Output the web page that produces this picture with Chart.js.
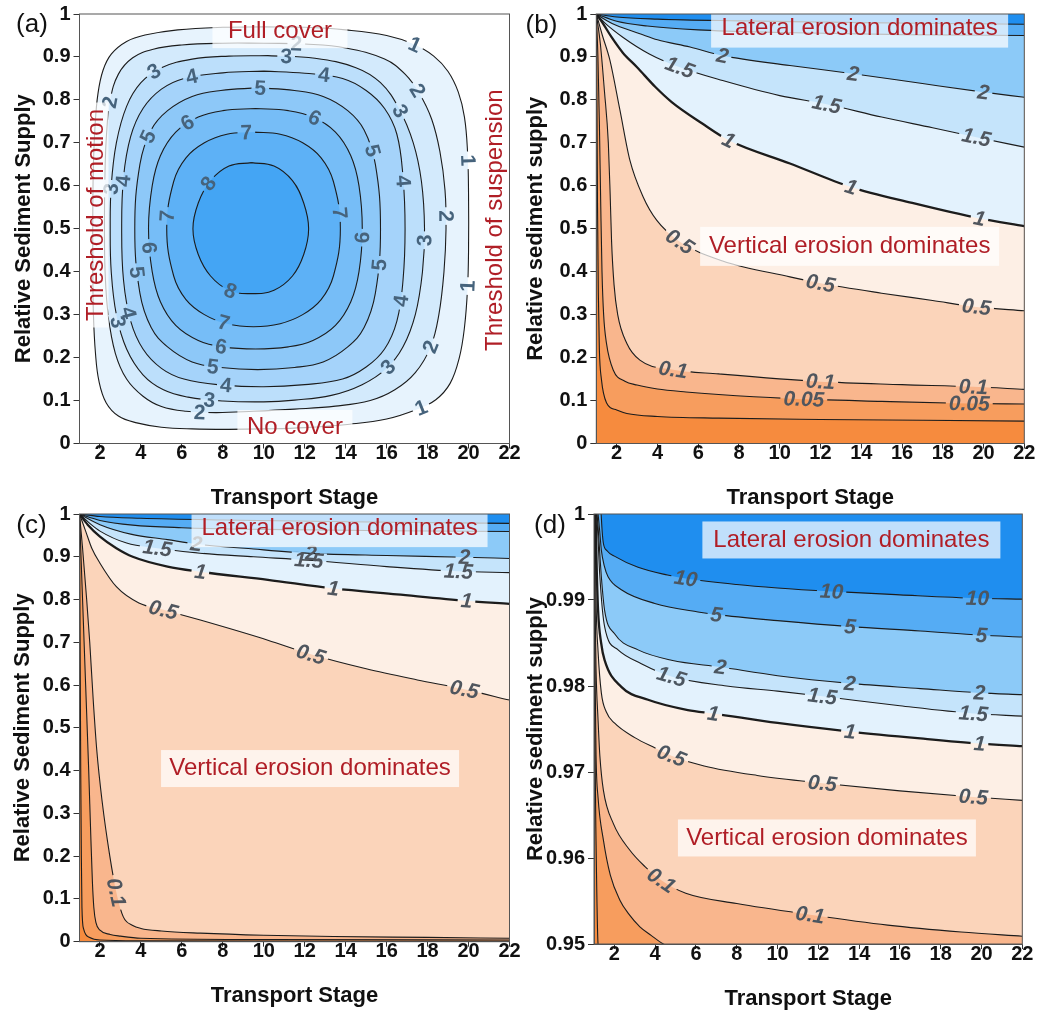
<!DOCTYPE html>
<html><head><meta charset="utf-8">
<script src="https://cdn.jsdelivr.net/npm/chart.js@4.4.1/dist/chart.umd.min.js"></script>
<style>
html,body{margin:0;padding:0;background:#fff;overflow:hidden;width:1041px;height:1012px}
canvas{position:absolute}
</style></head><body>
<canvas id="ca" width="525" height="511" style="left:0px;top:0px"></canvas>
<canvas id="cb" width="521" height="511" style="left:520px;top:0px"></canvas>
<canvas id="cc" width="525" height="509" style="left:0px;top:500px"></canvas>
<canvas id="cd" width="521" height="512" style="left:520px;top:500px"></canvas>
<script>
const FONT = '"Liberation Sans", Arial, Helvetica, sans-serif';
Chart.defaults.font.family = FONT;

// ---------- ticks ----------
const xTicks = [2,4,6,8,10,12,14,16,18,20,22];
const xTickLabels = ['2','4','6','8','10','12','14','16','18','20','22'];
const yTicksUnit = [0,0.1,0.2,0.3,0.4,0.5,0.6,0.7,0.8,0.9,1];
const yTickLabelsUnit = ['0','0.1','0.2','0.3','0.4','0.5','0.6','0.7','0.8','0.9','1'];
const yTicksD = [0.95,0.96,0.97,0.98,0.99,1];
const yTickLabelsD = ['0.95','0.96','0.97','0.98','0.99','1'];

// ---------- panel (a): closed contours, levels 1..8 ----------
const levelsA = [1,2,3,4,5,6,7,8];
const a1 = [[10,0.970],[12,0.969],[14,0.963],[16,0.950],[17.3,0.930],[18.3,0.902],[19.0,0.866],[19.5,0.818],[19.8,0.76],[19.95,0.68],[20.0,0.58],[20.0,0.45],[19.95,0.36],[19.8,0.27],[19.55,0.2],[19.1,0.14],[18.4,0.102],[17.4,0.078],[16,0.057],[14.2,0.045],[12,0.037],[10,0.034],[8.3,0.033],[6.5,0.034],[5,0.038],[3.8,0.048],[2.9,0.064],[2.3,0.095],[1.95,0.145],[1.78,0.21],[1.68,0.3],[1.65,0.4],[1.65,0.55],[1.68,0.65],[1.76,0.74],[1.9,0.814],[2.15,0.869],[2.56,0.907],[3.3,0.936],[4.2,0.951],[5.8,0.963],[8,0.969],[10,0.970]];
const a2 = [[10,0.932],[12,0.930],[14,0.921],[15.9,0.895],[16.9,0.86],[17.6,0.815],[18.2,0.755],[18.6,0.68],[18.85,0.59],[18.9,0.5],[18.8,0.4],[18.55,0.3],[18.15,0.225],[17.4,0.165],[16.4,0.125],[15.2,0.1],[13.5,0.087],[11.5,0.08],[9.5,0.075],[7.7,0.072],[6.2,0.075],[5.0,0.086],[4.1,0.11],[3.3,0.15],[2.75,0.21],[2.4,0.3],[2.25,0.4],[2.22,0.5],[2.24,0.62],[2.32,0.72],[2.5,0.8],[2.9,0.86],[3.6,0.898],[4.6,0.918],[6,0.928],[8,0.932],[10,0.932]];
const a3 = [[10.2,0.903],[12.5,0.897],[14.5,0.875],[15.7,0.84],[16.6,0.78],[17.3,0.70],[17.7,0.61],[17.85,0.5],[17.75,0.40],[17.4,0.30],[16.8,0.225],[16.0,0.175],[14.8,0.137],[13.3,0.112],[11.5,0.101],[10,0.097],[8,0.099],[6.3,0.108],[5.1,0.125],[4.1,0.16],[3.3,0.22],[2.8,0.3],[2.55,0.4],[2.5,0.5],[2.55,0.6],[2.8,0.7],[3.3,0.785],[4.0,0.84],[5.0,0.875],[6.5,0.895],[8.3,0.902],[10.2,0.903]];
const a4 = [[10,0.867],[12,0.862],[13.85,0.85],[15,0.822],[15.9,0.78],[16.5,0.72],[16.8,0.62],[16.9,0.5],[16.8,0.38],[16.5,0.285],[15.9,0.22],[15,0.178],[13.85,0.15],[12,0.137],[10,0.132],[8,0.136],[6.1,0.15],[5,0.175],[4.1,0.22],[3.5,0.285],[3.15,0.38],[3.06,0.5],[3.15,0.62],[3.5,0.715],[4.1,0.78],[5,0.825],[6.1,0.85],[8,0.863],[10,0.867]];
const a5 = [[9.7,0.828],[11.5,0.822],[12.9,0.808],[14.1,0.775],[14.9,0.73],[15.45,0.65],[15.7,0.5],[15.45,0.35],[14.9,0.27],[14.1,0.225],[12.9,0.19],[11.5,0.177],[9.7,0.172],[7.9,0.177],[6.5,0.19],[5.3,0.225],[4.5,0.27],[3.95,0.35],[3.7,0.5],[3.95,0.65],[4.5,0.73],[5.3,0.775],[6.5,0.808],[7.9,0.822],[9.7,0.828]];
const a6 = [[9.6,0.78],[11.2,0.775],[12.4,0.76],[13.5,0.725],[14.25,0.67],[14.65,0.6],[14.81,0.5],[14.65,0.4],[14.25,0.33],[13.5,0.275],[12.4,0.24],[11.2,0.225],[9.6,0.22],[8.0,0.225],[6.8,0.24],[5.7,0.275],[4.95,0.33],[4.55,0.4],[4.37,0.5],[4.55,0.6],[4.95,0.67],[5.7,0.725],[6.8,0.76],[8.0,0.775],[9.6,0.78]];
const a7 = [[9.5,0.725],[10.8,0.72],[11.9,0.7],[12.8,0.665],[13.4,0.61],[13.74,0.5],[13.4,0.39],[12.8,0.335],[11.9,0.3],[10.8,0.279],[9.5,0.272],[8.2,0.279],[7.1,0.3],[6.2,0.335],[5.6,0.39],[5.26,0.5],[5.6,0.61],[6.2,0.665],[7.1,0.7],[8.2,0.72],[9.5,0.725]];
const a8 = [[9.4,0.654],[10.5,0.646],[11.4,0.612],[11.95,0.56],[12.19,0.50],[11.95,0.44],[11.4,0.39],[10.5,0.357],[9.4,0.349],[8.3,0.357],[7.4,0.39],[6.8,0.44],[6.54,0.50],[6.8,0.56],[7.4,0.612],[8.3,0.646],[9.4,0.654]];
const labelsA = [
 ['1',17.4,0.93],['1',20.0,0.66],['1',19.93,0.365],['1',17.65,0.086],
 ['2',11.62,0.931],['2',17.49,0.822],['2',18.96,0.527],['2',18.14,0.225],['2',6.89,0.066],['2',2.39,0.795],
 ['3',11.05,0.90],['3',4.69,0.865],['3',16.59,0.776],['3',17.81,0.473],['3',16.02,0.179],['3',7.38,0.097],['3',2.56,0.59],['3',2.80,0.28],
 ['4',6.49,0.849],['4',12.92,0.841],['4',16.67,0.613],['4',16.35,0.334],['4',8.2,0.132],['4',3.21,0.613],['4',3.53,0.303],
 ['5',9.83,0.826],['5',4.59,0.71],['5',15.04,0.679],['5',15.61,0.419],['5',7.54,0.179],['5',3.78,0.396],
 ['6',6.40,0.737],['6',12.35,0.745],['6',14.8,0.477],['6',7.87,0.225],['6',4.59,0.454],
 ['7',9.18,0.725],['7',13.74,0.535],['7',8.03,0.28],['7',5.24,0.527],
 ['8',7.04,0.613],['8',8.36,0.353]
];

// ---------- panel (b) ----------
const levelsB = [0.01,0.05,0.1,0.5,1,1.5,2,5,10];
const b001 = [[1,1],[1.03,0.8],[1.06,0.55],[1.1,0.35],[1.15,0.22],[1.25,0.15],[1.5,0.095],[2,0.078],[2.5,0.07],[4,0.063],[7,0.059],[12,0.056],[17,0.054],[22,0.052]];
const b005 = [[1,1],[1.08,0.9],[1.15,0.75],[1.22,0.55],[1.28,0.4],[1.36,0.3],[1.5,0.233],[1.83,0.171],[2.4,0.145],[3.0,0.136],[4.0,0.127],[5.4,0.12],[7,0.114],[10.3,0.105],[15,0.098],[19.3,0.093],[22,0.092]];
const b01 = [[1,1],[1.2,0.93],[1.4,0.82],[1.59,0.7],[1.68,0.58],[1.75,0.47],[1.87,0.37],[2.05,0.3],[2.5,0.233],[3.14,0.194],[4.77,0.172],[7.0,0.162],[12,0.144],[16,0.137],[19.5,0.132],[22,0.126]];
const b05 = [[1,1],[1.3,0.95],[1.67,0.892],[2.16,0.776],[2.65,0.659],[3.3,0.574],[3.96,0.52],[5.1,0.47],[7.2,0.425],[10.5,0.388],[12,0.373],[15,0.35],[17.5,0.333],[19.65,0.318],[22,0.309]];
const b1 = [[1,1],[1.3,0.98],[1.75,0.946],[2.3,0.91],[3.0,0.876],[3.9,0.83],[4.7,0.795],[6.2,0.745],[7.5,0.706],[10.5,0.652],[13.5,0.597],[16.5,0.56],[19.8,0.524],[22,0.506]];
const b15 = [[1,1],[1.4,0.98],[2.3,0.946],[3.6,0.907],[5.1,0.876],[7.2,0.845],[10,0.81],[12.3,0.79],[15,0.76],[17.5,0.735],[19.65,0.713],[22,0.69]];
const b2 = [[1,1],[1.5,0.985],[2,0.973],[3.14,0.954],[4,0.94],[5.6,0.923],[7.2,0.903],[10.5,0.88],[13.6,0.861],[17,0.838],[20,0.818],[22,0.806]];
const b5 = [[1,1],[2,0.983],[3.5,0.972],[6,0.963],[10,0.957],[16,0.952],[22,0.95]];
const b10 = [[1,1],[2,0.993],[4,0.988],[8,0.984],[14,0.98],[22,0.976]];
const labelsB = [
 ['2',7.2,0.90],['2',13.6,0.861],['2',19.97,0.818],
 ['1.5',5.1,0.876],['1.5',12.29,0.791],['1.5',19.65,0.713],
 ['1',7.54,0.706],['1',13.52,0.597],['1',19.81,0.524],
 ['0.5',5.1,0.47],['0.5',11.96,0.373],['0.5',19.65,0.318],
 ['0.1',4.77,0.172],['0.1',11.96,0.144],['0.1',19.5,0.132],
 ['0.05',11.15,0.105],['0.05',19.3,0.093]
];

// ---------- panel (c) ----------
const levelsC = [0.01,0.05,0.1,0.5,1,1.5,2,5,10];
const c001 = [[1,1],[1.03,0.7],[1.06,0.4],[1.09,0.2],[1.12,0.08],[1.2,0.03],[1.5,0.01],[2,0.004],[4,0.002],[22,0.001]];
const c005 = [[1,1],[1.15,0.8],[1.3,0.6],[1.45,0.4],[1.55,0.25],[1.63,0.14],[1.7,0.08],[1.8,0.045],[2,0.027],[2.5,0.017],[3,0.013],[4,0.008],[10,0.005],[22,0.004]];
const c01 = [[1,1],[1.15,0.92],[1.35,0.8],[1.5,0.7],[1.67,0.565],[1.84,0.45],[2.1,0.33],[2.48,0.2],[2.8,0.115],[3.14,0.058],[3.6,0.038],[4.0,0.031],[5,0.025],[6.9,0.02],[10,0.015],[13.4,0.012],[18,0.01],[22,0.008]];
const c05 = [[1,1],[1.3,0.96],[1.6,0.92],[2.0,0.885],[2.8,0.83],[3.9,0.792],[5.1,0.776],[6.9,0.752],[10.2,0.705],[12.3,0.672],[15,0.638],[17.5,0.612],[19.8,0.59],[22,0.565]];
const c1 = [[1,1],[1.4,0.975],[2,0.947],[2.8,0.92],[3.6,0.9],[5.3,0.877],[6.9,0.865],[10.2,0.846],[13.4,0.826],[16.5,0.812],[19.9,0.797],[22,0.79]];
const c15 = [[1,1],[1.5,0.978],[2,0.96],[3.3,0.932],[4.8,0.92],[7,0.908],[9.5,0.9],[12.2,0.892],[16,0.877],[19.5,0.866],[22,0.863]];
const c2 = [[1,1],[2,0.975],[3.5,0.953],[5.3,0.94],[6.7,0.93],[9.5,0.918],[12.3,0.908],[16,0.903],[19.8,0.899],[22,0.896]];
const c5 = [[1,1],[2,0.985],[3.6,0.974],[6,0.968],[10,0.964],[16,0.961],[22,0.959]];
const c10 = [[1,1],[2,0.994],[4,0.99],[8,0.986],[14,0.982],[22,0.978]];
const labelsC = [
 ['2',6.73,0.928],['2',12.26,0.908],['2',19.77,0.90],
 ['1.5',4.78,0.924],['1.5',12.19,0.892],['1.5',19.45,0.865],
 ['1',6.89,0.865],['1',13.41,0.826],['1',19.93,0.799],
 ['0.5',5.1,0.776],['0.5',12.27,0.666],['0.5',19.77,0.59],
 ['0.1',2.8,0.115]
];

// ---------- panel (d) ----------
const levelsD = [0.01,0.05,0.1,0.5,1,1.5,2,5,10];
const d001 = [[1.003,1.0],[1.01,0.99],[1.04,0.975],[1.1,0.962],[1.2,0.95],[2,0.945],[22,0.94]];
const d005 = [[1.01,1.0],[1.03,0.99],[1.06,0.98],[1.1,0.972],[1.2,0.967],[1.46,0.9621],[1.8,0.958],[2.27,0.9551],[2.7,0.9535],[3.25,0.952],[3.8,0.951],[4.4,0.95],[6,0.9485],[22,0.945]];
const d01 = [[1.02,1.0],[1.05,0.99],[1.1,0.982],[1.2,0.976],[1.29,0.9718],[1.46,0.9679],[1.95,0.964],[2.76,0.9609],[3.5,0.959],[4.3,0.9574],[5.5,0.9559],[8,0.9547],[11.6,0.9534],[15.4,0.9522],[19,0.9514],[22,0.9509]];
const d05 = [[1.05,1.0],[1.1,0.99],[1.2,0.984],[1.36,0.9792],[1.6,0.977],[2.0,0.9757],[3.0,0.974],[4.0,0.9728],[4.8,0.9719],[6.4,0.9707],[9,0.9696],[12.2,0.9687],[16,0.9678],[19.6,0.9671],[22,0.9667]];
const d1 = [[1.08,1.0],[1.12,0.995],[1.2,0.9888],[1.35,0.985],[1.52,0.983],[2.34,0.9799],[3.65,0.9784],[5.6,0.9772],[6.85,0.9768],[10,0.9757],[13.55,0.9747],[17,0.9739],[19.9,0.9733],[22,0.973]];
const d15 = [[1.12,1.0],[1.18,0.998],[1.28,0.993],[1.52,0.9869],[2.18,0.9842],[3.32,0.9826],[4.8,0.9811],[7.5,0.98],[10,0.9794],[12.2,0.9788],[16,0.9777],[19.6,0.9768],[22,0.9765]];
const d2 = [[1.15,1.0],[1.2,0.9985],[1.36,0.9927],[1.52,0.9888],[2.0,0.9861],[3.16,0.9842],[4.8,0.983],[7.2,0.9822],[10,0.9812],[13.55,0.9803],[17,0.9797],[19.9,0.9792],[22,0.979]];
const d5 = [[1.2,1.0],[1.28,0.998],[1.36,0.9958],[1.5,0.994],[1.69,0.9927],[2.34,0.9912],[3.98,0.9896],[6.1,0.9886],[7.0,0.9883],[10,0.9876],[13.55,0.9869],[17,0.9864],[20,0.9859],[22,0.9857]];
const d10 = [[1.35,1.0],[1.4,0.998],[1.46,0.9966],[1.65,0.9957],[2.0,0.9951],[3.16,0.9938],[4.6,0.9929],[5.5,0.9925],[8,0.9918],[10,0.9914],[12.65,0.991],[16,0.9906],[19.8,0.9902],[22,0.9901]];
const labelsD = [
 ['10',5.54,0.9925],['10',12.65,0.991],['10',19.76,0.9902],
 ['5',7.01,0.9883],['5',13.55,0.9869],['5',20.0,0.9859],
 ['2',7.18,0.9822],['2',13.55,0.9803],['2',19.92,0.9792],
 ['1.5',4.81,0.9811],['1.5',12.16,0.9788],['1.5',19.6,0.9768],
 ['1',6.85,0.9768],['1',13.55,0.9747],['1',19.92,0.9733],
 ['0.5',4.81,0.9719],['0.5',12.16,0.9687],['0.5',19.6,0.9671],
 ['0.1',4.32,0.9574],['0.1',11.59,0.9534]
];

// ---------- styles ----------
const bandsA = ['#e7f3fd','#d3eafc','#bcdffb','#a5d3fa','#8dc8f8','#76bdf7','#5db1f6','#44a5f4'];
const bandsOB = ['#f79d5e','#f9b68d','#fbd4ba','#fdefe5','#e3f2fd','#c5e4fb','#8ccaf8','#55acf4','#1f8eef'];
const bgOB = '#f68b3e';
const TEXT_RED = '#b01e26';

function sampleLine(points) {
  const out = [];
  for (let i = 0; i < points.length - 1; i++) {
    const a = points[i], b = points[i + 1];
    const cp = a.cp2x !== undefined && b.cp1x !== undefined && !isNaN(a.cp2x) && !isNaN(b.cp1x);
    for (let k = 0; k < 16; k++) {
      const t = k / 16, u = 1 - t;
      if (cp) {
        out.push([u*u*u*a.x + 3*u*u*t*a.cp2x + 3*u*t*t*b.cp1x + t*t*t*b.x,
                  u*u*u*a.y + 3*u*u*t*a.cp2y + 3*u*t*t*b.cp1y + t*t*t*b.y]);
      } else {
        out.push([a.x + (b.x - a.x) * t, a.y + (b.y - a.y) * t]);
      }
    }
  }
  const l = points[points.length - 1];
  out.push([l.x, l.y]);
  return out;
}

function makeExtras(P) {
  return {
    id: 'extras' + P.tag.replace(/\W/g, ''),
    beforeDraw(chart) {
      if (!P.bg) return;
      const a = chart.chartArea, ctx = chart.ctx;
      ctx.save(); ctx.fillStyle = P.bg;
      ctx.fillRect(a.left, a.top, a.right - a.left, a.bottom - a.top);
      ctx.restore();
    },
    beforeDatasetsDraw(chart) {
      const ctx = chart.ctx, xs = chart.scales.x, ys = chart.scales.y;
      ctx.save();
      ctx.font = P.labelFont;
      const placed = [];
      for (const [text, lx, ly] of P.labels) {
        const lvl = parseFloat(text);
        const di = chart.data.datasets.findIndex(d => d.level === lvl);
        if (di < 0) continue;
        const pts = sampleLine(chart.getDatasetMeta(di).data);
        const tx = xs.getPixelForValue(lx), ty = ys.getPixelForValue(ly);
        let best = 0, bd = Infinity;
        for (let i = 0; i < pts.length; i++) {
          const dx = pts[i][0] - tx, dy = pts[i][1] - ty, d = dx*dx + dy*dy;
          if (d < bd) { bd = d; best = i; }
        }
        const i0 = Math.max(0, best - 3), i1 = Math.min(pts.length - 1, best + 3);
        let ang = Math.atan2(pts[i1][1] - pts[i0][1], pts[i1][0] - pts[i0][0]);
        if (ang > Math.PI / 2) ang -= Math.PI;
        if (ang < -Math.PI / 2 + 1e-6) ang += Math.PI;
        placed.push({ text, x: pts[best][0], y: pts[best][1], ang, w: ctx.measureText(text).width + 6, h: 16 });
      }
      chart.$labels = placed;
      ctx.beginPath();
      ctx.rect(0, 0, chart.width, chart.height);
      for (const L of placed) {
        const c = Math.cos(L.ang), s = Math.sin(L.ang), hw = L.w / 2, hh = L.h / 2;
        const cs = [[-hw,-hh],[hw,-hh],[hw,hh],[-hw,hh]].map(([u,v]) => [L.x + u*c - v*s, L.y + u*s + v*c]);
        ctx.moveTo(cs[0][0], cs[0][1]);
        for (let k = 1; k < 4; k++) ctx.lineTo(cs[k][0], cs[k][1]);
        ctx.closePath();
      }
      ctx.clip('evenodd');
    },
    afterDatasetsDraw(chart) {
      const ctx = chart.ctx, xs = chart.scales.x, ys = chart.scales.y;
      ctx.restore();
      ctx.save();
      ctx.font = P.labelFont; ctx.fillStyle = P.labelColor;
      ctx.textAlign = 'center'; ctx.textBaseline = 'middle';
      for (const L of chart.$labels || []) {
        ctx.save(); ctx.translate(L.x, L.y); ctx.rotate(L.ang);
        ctx.fillText(L.text, 0, 1); ctx.restore();
      }
      ctx.restore();
      for (const t of P.texts) {
        const px = xs.getPixelForValue(t.x), py = ys.getPixelForValue(t.y);
        ctx.save(); ctx.translate(px, py); ctx.rotate((t.rot || 0) * Math.PI / 180);
        if (t.box) {
          ctx.fillStyle = 'rgba(255,255,255,0.72)';
          ctx.fillRect(-t.box[0] / 2 + t.box[2], -t.box[1] / 2 + t.box[3], t.box[0], t.box[1]);
        }
        ctx.fillStyle = TEXT_RED; ctx.font = '24px ' + FONT;
        ctx.textAlign = 'center'; ctx.textBaseline = 'middle';
        ctx.fillText(t.text, 0, 0);
        ctx.restore();
      }
    },
    afterDraw(chart) {
      const ctx = chart.ctx, a = chart.chartArea;
      ctx.save();
      ctx.strokeStyle = '#555'; ctx.lineWidth = 1;
      ctx.strokeRect(a.left, a.top, a.right - a.left, a.bottom - a.top);
      ctx.fillStyle = '#111'; ctx.font = '26px ' + FONT;
      ctx.textAlign = 'center'; ctx.textBaseline = 'middle';
      ctx.fillText(P.tag, P.tagPos[0], P.tagPos[1]);
      ctx.restore();
    }
  };
}

function makePanel(canvasId, P) {
  const datasets = [];
  for (let i = P.levels.length - 1; i >= 0; i--) {
    const lvl = P.levels[i];
    datasets.push({
      level: lvl,
      data: P.curves[i].map(p => ({ x: p[0], y: p[1] })),
      borderColor: '#1c1c1c',
      borderWidth: (!P.closed && lvl === 1) ? 2.3 : 1.1,
      backgroundColor: P.bands[i],
      fill: P.closed ? 'shape' : 'end',
      pointRadius: 0, pointHoverRadius: 0,
      tension: P.closed ? 0.4 : 0,
      cubicInterpolationMode: P.closed ? 'default' : 'monotone'
    });
  }
  const tickFont = { size: 20, weight: 'bold', lineHeight: 1 };
  const titleFont = { size: 22, weight: 'bold', lineHeight: 1.2 };
  return new Chart(document.getElementById(canvasId), {
    type: 'line',
    data: { datasets },
    options: {
      responsive: false, animation: false, events: [],
      layout: { padding: { top: P.geo.top, right: P.geo.right, left: 0, bottom: 0 } },
      scales: {
        x: {
          type: 'linear', min: 1, max: 22,
          afterBuildTicks: s => { s.ticks = xTicks.map(v => ({ value: v })); },
          afterFit: s => { s.height = P.geo.xh; },
          ticks: { autoSkip: false, maxRotation: 0, minRotation: 0, padding: -5, color: '#111', font: tickFont,
                   callback: (v, i) => xTickLabels[i] },
          grid: { drawOnChartArea: false, drawTicks: true, tickLength: 5, color: '#333' },
          border: { display: true, color: '#555', width: 1 },
          title: { display: true, text: 'Transport Stage', color: '#111', font: titleFont, padding: { top: 0, bottom: 0 } }
        },
        y: {
          type: 'linear', min: P.yMin, max: P.yMax,
          afterBuildTicks: s => { s.ticks = P.yTicks.map(v => ({ value: v })); },
          afterFit: s => { s.width = P.geo.yw; },
          ticks: { autoSkip: false, padding: 3, color: '#111', font: tickFont,
                   callback: (v, i) => P.yLabels[i] },
          grid: { drawOnChartArea: false, drawTicks: true, tickLength: 6, color: '#333' },
          border: { display: true, color: '#555', width: 1 },
          title: { display: true, text: P.yTitle, color: '#111', font: titleFont, padding: { top: P.geo.tp, bottom: 0 } }
        }
      },
      plugins: { legend: { display: false }, tooltip: { enabled: false }, filler: { drawTime: 'beforeDatasetsDraw' } }
    },
    plugins: [makeExtras(P)]
  });
}

makePanel('ca', {
  tag: '(a)', tagPos: [32, 25], closed: true, bg: null,
  levels: levelsA, curves: [a1,a2,a3,a4,a5,a6,a7,a8], bands: bandsA,
  labels: labelsA, labelFont: 'bold 21px ' + FONT, labelColor: '#46637c',
  yMin: 0, yMax: 1, yTicks: yTicksUnit, yLabels: yTickLabelsUnit, yTitle: 'Relative Sediment Supply',
  geo: { top: 14, right: 15.5, xh: 67.5, yw: 79.5, tp: 10.3 },
  texts: [
    { text: 'Full cover', x: 10.79, y: 0.960, box: [135, 26, 0, 4] },
    { text: 'No cover', x: 11.52, y: 0.0384, box: [115, 27, 0, -3.5] },
    { text: 'Threshold of motion', x: 1.83, y: 0.532, rot: -90, box: [225, 24, 0, 0] },
    { text: 'Threshold of suspension', x: 21.29, y: 0.520, rot: -90 }
  ]
});

makePanel('cb', {
  tag: '(b)', tagPos: [21.5, 26], closed: false, bg: bgOB,
  levels: levelsB, curves: [b001,b005,b01,b05,b1,b15,b2,b5,b10], bands: bandsOB,
  labels: labelsB, labelFont: 'italic bold 21px ' + FONT, labelColor: '#50565e',
  yMin: 0, yMax: 1, yTicks: yTicksUnit, yLabels: yTickLabelsUnit, yTitle: 'Relative sediment supply',
  geo: { top: 14, right: 16.7, xh: 67.5, yw: 76.3, tp: 2.8 },
  texts: [
    { text: 'Lateral erosion dominates', x: 13.92, y: 0.966, box: [297, 34, 0, 2] },
    { text: 'Vertical erosion dominates', x: 13.43, y: 0.459, box: [299, 39, 0, 0] }
  ]
});

makePanel('cc', {
  tag: '(c)', tagPos: [31.5, 26], closed: false, bg: bgOB,
  levels: levelsC, curves: [c001,c005,c01,c05,c1,c15,c2,c5,c10], bands: bandsOB,
  labels: labelsC, labelFont: 'italic bold 21px ' + FONT, labelColor: '#50565e',
  yMin: 0, yMax: 1, yTicks: yTicksUnit, yLabels: yTickLabelsUnit, yTitle: 'Relative Sediment Supply',
  geo: { top: 14, right: 15.5, xh: 67.3, yw: 79.5, tp: 9.3 },
  texts: [
    { text: 'Lateral erosion dominates', x: 13.7, y: 0.967, box: [296, 33, 0, 2.5] },
    { text: 'Vertical erosion dominates', x: 12.26, y: 0.406, box: [298, 37, 0, 0.5] }
  ]
});

makePanel('cd', {
  tag: '(d)', tagPos: [30, 26], closed: false, bg: bgOB,
  levels: levelsD, curves: [d001,d005,d01,d05,d1,d15,d2,d5,d10], bands: bandsOB,
  labels: labelsD, labelFont: 'italic bold 21px ' + FONT, labelColor: '#4c5660',
  yMin: 0.95, yMax: 1, yTicks: yTicksD, yLabels: yTickLabelsD, yTitle: 'Relative sediment supply',
  geo: { top: 14, right: 18.7, xh: 68, yw: 74, tp: 2.8 },
  texts: [
    { text: 'Lateral erosion dominates', x: 13.62, y: 0.99698, box: [298, 37, 0, 0] },
    { text: 'Vertical erosion dominates', x: 12.42, y: 0.96233, box: [298, 37, 0, 0] }
  ]
});
</script></body></html>
